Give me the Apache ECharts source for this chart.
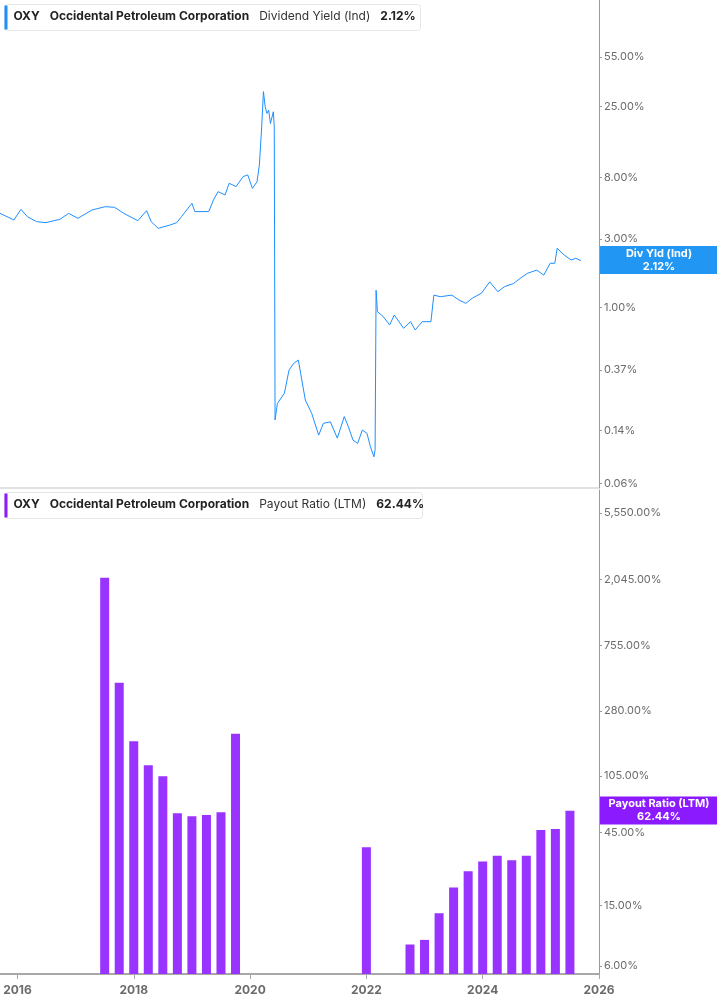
<!DOCTYPE html>
<html>
<head>
<meta charset="utf-8">
<script src="https://cdn.jsdelivr.net/npm/echarts@6/dist/echarts.min.js"></script>
<style>
html,body{margin:0;padding:0;background:#fff}
#main{width:717px;height:1005px}
</style>
</head>
<body>
<div id="main"></div>
<script>
// dividend yield (%), dates as decimal years
const divDates = [2015.70,2015.94,2016.06,2016.17,2016.33,2016.49,2016.73,2016.88,2017.04,2017.28,2017.51,2017.67,2017.83,2018.07,2018.22,2018.30,2018.42,2018.62,2018.74,2018.82,2019.00,2019.05,2019.29,2019.37,2019.45,2019.57,2019.64,2019.76,2019.88,2019.96,2020.04,2020.12,2020.16,2020.20,2020.23,2020.26,2020.29,2020.32,2020.35,2020.40,2020.416,2020.43,2020.47,2020.59,2020.67,2020.75,2020.83,2020.87,2020.95,2021.06,2021.18,2021.26,2021.38,2021.50,2021.62,2021.69,2021.77,2021.85,2021.93,2022.01,2022.07,2022.13,2022.15,2022.167,2022.19,2022.29,2022.40,2022.48,2022.64,2022.76,2022.84,2022.96,2023.11,2023.16,2023.27,2023.47,2023.59,2023.71,2023.82,2023.98,2024.12,2024.26,2024.38,2024.53,2024.65,2024.77,2024.93,2025.05,2025.16,2025.24,2025.28,2025.40,2025.52,2025.60,2025.69];
const divYld = [4.51,4.06,4.81,4.28,3.95,3.89,4.10,4.51,4.17,4.76,5.02,4.97,4.51,4.01,4.71,3.95,3.55,3.74,3.89,4.28,5.30,4.64,4.64,5.58,6.38,6.05,7.30,6.92,8.12,8.34,6.73,7.49,9.77,18.0,31.6,24.8,22.3,23.5,19.0,22.9,18.0,0.166,0.216,0.254,0.368,0.410,0.432,0.349,0.228,0.184,0.130,0.157,0.161,0.124,0.175,0.149,0.120,0.114,0.141,0.134,0.108,0.092,0.103,1.32,0.937,0.865,0.757,0.888,0.718,0.798,0.699,0.798,0.798,1.22,1.19,1.22,1.13,1.07,1.16,1.26,1.51,1.29,1.40,1.47,1.60,1.73,1.82,1.68,2.03,2.03,2.58,2.32,2.14,2.20,2.12];
const divTicks = [55, 25, 8, 3, 1, 0.37, 0.14, 0.06];

// payout ratio (LTM, %) per quarter
const payDates = [2017.50,2017.75,2018.00,2018.25,2018.50,2018.75,2019.00,2019.25,2019.50,2019.75,2022.00,2022.75,2023.00,2023.25,2023.50,2023.75,2024.00,2024.25,2024.50,2024.75,2025.00,2025.25,2025.50];
const payVals = [2090,430,178,124,105,60,57.5,58.5,61,199,35.9,8.3,8.9,13.3,19.6,25.0,29.0,31.6,29.6,31.6,46.6,47.3,62.44];
const payTicks = [5550, 2045, 755, 280, 105, 45, 15, 6];
const yearTicks = [2016, 2018, 2020, 2022, 2024, 2026];

const divLast = 2.12, payLast = 62.44;
const payBase = 0.726;   // log10 of the bottom panel's floor

const lg = Math.log10;
const fmtPct = v => v.toLocaleString('en-US', {minimumFractionDigits: 2, maximumFractionDigits: 2}) + '%';
const nearest = (ticks, v) => ticks.reduce((a, b) => Math.abs(lg(b) - v) < Math.abs(lg(a) - v) ? b : a);

const FONT = 'Inter';
const blue = '#1e8fff', purple = '#9933ff';

const chart = echarts.init(document.getElementById('main'));

function yAxisCommon(ticks, shift, min, max, gridIndex) {
    return {
        type: 'value', gridIndex, position: 'right', min, max,
        splitLine: {show: false},
        axisLine: {show: true, lineStyle: {color: '#9a9a9a', width: 1}},
        axisTick: {show: true, length: 3, lineStyle: {color: '#9a9a9a'}, customValues: ticks.map(t => lg(t) - shift)},
        axisLabel: {
            customValues: ticks.map(t => lg(t) - shift),
            formatter: v => fmtPct(nearest(ticks, v + shift)),
            color: '#6b6b6b', fontFamily: FONT, fontSize: 11, margin: 5
        }
    };
}

function legendBox(y, color, w, label, val) {
    return {
        type: 'group', left: 4, top: y,
        children: [
            {type: 'rect', shape: {x: 0, y: 0, width: w, height: 26, r: 3}, style: {fill: '#fff', stroke: '#e6e6e6', lineWidth: 1}},
            {type: 'rect', shape: {x: 0, y: 1, width: 3, height: 24}, style: {fill: color}},
            {type: 'text', x: 9, y: 6, style: {
                text: '{b|OXY}   {b|Occidental Petroleum Corporation}   {n|' + label + '}   {b|' + val + '}',
                rich: {
                    b: {fontFamily: FONT, fontSize: 12, fontWeight: 'bold', fill: '#222'},
                    n: {fontFamily: FONT, fontSize: 12, fill: '#333'}
                }
            }}
        ]
    };
}

function endLabel(name, val, bg) {
    const t = {color: '#fff', fontFamily: FONT, fontSize: 11, fontWeight: 'bold', lineHeight: 13, width: 106, align: 'center'};
    return {
        show: true, position: 'end', distance: 1, align: 'left', verticalAlign: 'middle',
        formatter: '{t|' + name + '}\n{t|' + fmtPct(val) + '}',
        backgroundColor: bg, padding: [1, 6],
        rich: {t: t}
    };
}

chart.setOption({
    animation: false,
    grid: [
        {left: 0, right: 118, top: 0, height: 488},
        {left: 0, right: 118, top: 490, height: 484}
    ],
    xAxis: [
        {type: 'value', gridIndex: 0, min: 2015.7, max: 2026, show: false},
        {
            type: 'value', gridIndex: 1, min: 2015.7, max: 2026,
            splitLine: {show: false},
            axisLine: {show: true, lineStyle: {color: '#a8a8a8', width: 2}},
            axisTick: {show: true, length: 5, lineStyle: {color: '#a8a8a8'}, customValues: yearTicks},
            axisLabel: {customValues: yearTicks, color: '#6b6b6b', fontFamily: FONT, fontSize: 12, fontWeight: 'bold', margin: 10, formatter: v => String(v)}
        }
    ],
    yAxis: [
        yAxisCommon(divTicks, 0, -1.253, 2.136, 0),
        yAxisCommon(payTicks, payBase, 0, 3.895 - payBase, 1)
    ],
    series: [
        {
            type: 'line', xAxisIndex: 0, yAxisIndex: 0, symbol: 'none',
            lineStyle: {color: blue, width: 1},
            data: divDates.map((d, i) => [d, lg(divYld[i])]),
            markLine: {
                silent: true, symbol: 'none', lineStyle: {color: 'rgba(0,0,0,0)', width: 0},
                label: endLabel('Div Yld (Ind)', divLast, '#2196f3'),
                data: [{yAxis: lg(divLast)}]
            }
        },
        {
            type: 'bar', xAxisIndex: 1, yAxisIndex: 1, barWidth: 9,
            itemStyle: {color: purple},
            data: payDates.map((d, i) => [d, lg(payVals[i]) - payBase]),
            markLine: {
                silent: true, symbol: 'none', lineStyle: {color: 'rgba(0,0,0,0)', width: 0},
                label: endLabel('Payout Ratio (LTM)', payLast, '#8c1aff'),
                data: [{yAxis: lg(payLast) - payBase}]
            }
        }
    ],
    graphic: [
        {type: 'rect', left: 0, top: 487, shape: {width: 599, height: 2}, style: {fill: '#e2e2e2'}},
        legendBox(4, blue, 416, 'Dividend Yield (Ind)', fmtPct(divLast)),
        legendBox(492, '#8a1aff', 418, 'Payout Ratio (LTM)', fmtPct(payLast))
    ]
});
</script>
</body>
</html>
